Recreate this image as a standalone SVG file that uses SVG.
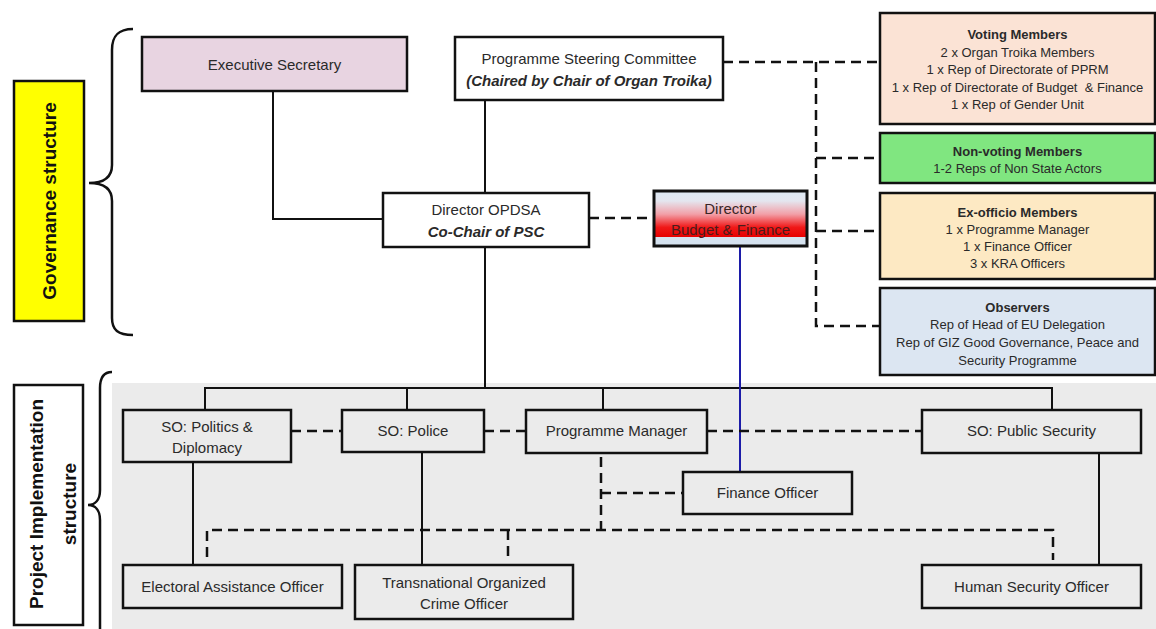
<svg xmlns="http://www.w3.org/2000/svg" width="1156" height="629" viewBox="0 0 1156 629">
<defs>
<linearGradient id="bf" x1="0" y1="0" x2="0" y2="1">
<stop offset="0" stop-color="#dde9f4"/>
<stop offset="0.18" stop-color="#e4e6ef"/>
<stop offset="0.42" stop-color="#f2a0a8"/>
<stop offset="0.66" stop-color="#f01818"/>
<stop offset="0.84" stop-color="#e60000"/>
<stop offset="0.845" stop-color="#d5e2ef"/>
<stop offset="1" stop-color="#d5e2ef"/>
</linearGradient>
</defs>
<style>
text{font-family:"Liberation Sans",Arial,sans-serif;fill:#2a2a2a;text-anchor:middle}
.t{font-size:15px}
.s{font-size:13px}
.b{font-weight:bold}
.bi{font-weight:bold;font-style:italic}
.lab{font-size:19px;font-weight:bold;fill:#111}
.box{stroke:#111;stroke-width:2.5}
.ln{stroke:#111;stroke-width:2;fill:none}
.dl{stroke:#111;stroke-width:2.5;fill:none;stroke-dasharray:10,6}
.br{stroke:#111;stroke-width:2.5;fill:none}
</style>
<rect width="1156" height="629" fill="#ffffff"/>
<rect x="112" y="383" width="1044" height="246" fill="#ebebeb"/>

<g id="label-governance">
<rect class="box" x="14" y="81" width="70" height="240" fill="#ffff00"/>
<text class="lab" transform="translate(56,201) rotate(-90)">Governance structure</text>
<path class="br" d="M133,29 C118,29 112,36 112,50 L112,165 C112,177 104,183 89,183 C104,183 112,189 112,201 L112,318 C112,330 118,335 133,335"/>
</g>
<g id="label-implementation">
<rect class="box" x="14" y="385" width="69" height="240" fill="#ffffff"/>
<text class="lab" transform="translate(43,504) rotate(-90)">Project Implementation</text>
<text class="lab" transform="translate(76,504) rotate(-90)">structure</text>
<path class="br" d="M112,372 C104,372 100,378 100,388 L100,490 C100,500 95,505 88,505 C95,505 100,510 100,520 L100,640"/>
</g>

<g id="connectors">
<polyline class="ln" points="273,91 273,219 383,219"/>
<line class="ln" x1="485" y1="100" x2="485" y2="193"/>
<line class="ln" x1="485" y1="247" x2="485" y2="388"/>
<polyline class="ln" points="205,410 205,388 1052,388 1052,410"/>
<line class="ln" x1="407" y1="388" x2="407" y2="410"/>
<line class="ln" x1="603" y1="388" x2="603" y2="410"/>
<line class="ln" x1="193" y1="462" x2="193" y2="565"/>
<line class="ln" x1="422" y1="452" x2="422" y2="565"/>
<line class="ln" x1="1099" y1="453" x2="1099" y2="565"/>
<line x1="740" y1="246" x2="740" y2="472" stroke="#1c1ca8" stroke-width="2"/>
<line class="dl" x1="589" y1="218" x2="654" y2="218"/>
<line class="dl" x1="723" y1="62" x2="880" y2="62"/>
<polyline class="dl" points="816,62 816,326 880,326"/>
<line class="dl" x1="816" y1="158" x2="880" y2="158"/>
<line class="dl" x1="816" y1="231" x2="880" y2="231"/>
<line class="dl" x1="291" y1="431" x2="342" y2="431"/>
<line class="dl" x1="484" y1="431" x2="526" y2="431"/>
<line class="dl" x1="707" y1="431" x2="922" y2="431"/>
<line class="dl" x1="601" y1="457" x2="601" y2="530"/>
<line class="dl" x1="601" y1="493" x2="683" y2="493"/>
<polyline class="dl" points="207,557 207,530 1053,530 1053,560"/>
<line class="dl" x1="508" y1="530" x2="508" y2="557"/>
</g>

<g id="executive-secretary">
<rect class="box" x="142" y="37" width="265" height="54" fill="#e8d4e1"/>
<text class="t" x="274.5" y="70">Executive Secretary</text>
</g>
<g id="psc">
<rect class="box" x="455" y="37" width="268" height="63" fill="#ffffff"/>
<text class="t" x="589" y="64">Programme Steering Committee</text>
<text class="t bi" x="589" y="86">(Chaired by Chair of Organ Troika)</text>
</g>
<g id="director-opdsa">
<rect class="box" x="383" y="193" width="206" height="54" fill="#ffffff"/>
<text class="t" x="486" y="215">Director OPDSA</text>
<text class="t bi" x="486" y="237">Co-Chair of PSC</text>
</g>
<g id="director-bf">
<rect x="654" y="191" width="153" height="55" fill="url(#bf)" stroke="#111" stroke-width="3"/>
<text class="t" x="730.5" y="214" style="fill:#3a2626">Director</text>
<text class="t" x="730.5" y="235" style="fill:#4a1c1c">Budget &amp; Finance</text>
</g>

<g id="voting-members">
<rect class="box" x="880" y="13" width="275" height="111" fill="#fbe3d5"/>
<text class="s b" x="1017.5" y="38.5">Voting Members</text>
<text class="s" x="1017.5" y="56.5">2 x Organ Troika Members</text>
<text class="s" x="1017.5" y="74">1 x Rep of Directorate of PPRM</text>
<text class="s" x="1017.5" y="91.5" xml:space="preserve">1 x Rep of Directorate of Budget  &amp; Finance</text>
<text class="s" x="1017.5" y="108.5">1 x Rep of Gender Unit</text>
</g>
<g id="non-voting-members">
<rect class="box" x="880" y="133" width="275" height="50" fill="#80e680"/>
<text class="s b" x="1017.5" y="155.5">Non-voting Members</text>
<text class="s" x="1017.5" y="172.5">1-2 Reps of Non State Actors</text>
</g>
<g id="ex-officio-members">
<rect class="box" x="880" y="193" width="275" height="86" fill="#fde9c3"/>
<text class="s b" x="1017.5" y="216.5">Ex-officio Members</text>
<text class="s" x="1017.5" y="233.5">1 x Programme Manager</text>
<text class="s" x="1017.5" y="250.5">1 x Finance Officer</text>
<text class="s" x="1017.5" y="267.5">3 x KRA Officers</text>
</g>
<g id="observers">
<rect class="box" x="880" y="288" width="275" height="87" fill="#dce6f2"/>
<text class="s b" x="1017.5" y="311.5">Observers</text>
<text class="s" x="1017.5" y="329">Rep of Head of EU Delegation</text>
<text class="s" x="1017.5" y="347">Rep of GIZ Good Governance, Peace and</text>
<text class="s" x="1017.5" y="365">Security Programme</text>
</g>

<g id="so-politics">
<rect class="box" x="123" y="410" width="168" height="52" fill="#ebebeb"/>
<text class="t" x="207" y="432">SO: Politics &amp;</text>
<text class="t" x="207" y="453">Diplomacy</text>
</g>
<g id="so-police">
<rect class="box" x="342" y="410" width="142" height="42" fill="#ebebeb"/>
<text class="t" x="413" y="436">SO: Police</text>
</g>
<g id="programme-manager">
<rect class="box" x="526" y="410" width="181" height="43" fill="#ebebeb"/>
<text class="t" x="616.5" y="436">Programme Manager</text>
</g>
<g id="so-public-security">
<rect class="box" x="922" y="410" width="219" height="43" fill="#ebebeb"/>
<text class="t" x="1031.5" y="436">SO: Public Security</text>
</g>
<g id="finance-officer">
<rect class="box" x="683" y="472" width="169" height="42" fill="#ebebeb"/>
<text class="t" x="767.5" y="498">Finance Officer</text>
</g>
<g id="electoral-assistance-officer">
<rect class="box" x="123" y="565" width="219" height="43" fill="#ebebeb"/>
<text class="t" x="232.5" y="592">Electoral Assistance Officer</text>
</g>
<g id="transnational-organized-crime-officer">
<rect class="box" x="355" y="565" width="218" height="54" fill="#ebebeb"/>
<text class="t" x="464" y="588">Transnational Organized</text>
<text class="t" x="464" y="609">Crime Officer</text>
</g>
<g id="human-security-officer">
<rect class="box" x="922" y="565" width="219" height="43" fill="#ebebeb"/>
<text class="t" x="1031.5" y="592">Human Security Officer</text>
</g>
</svg>
